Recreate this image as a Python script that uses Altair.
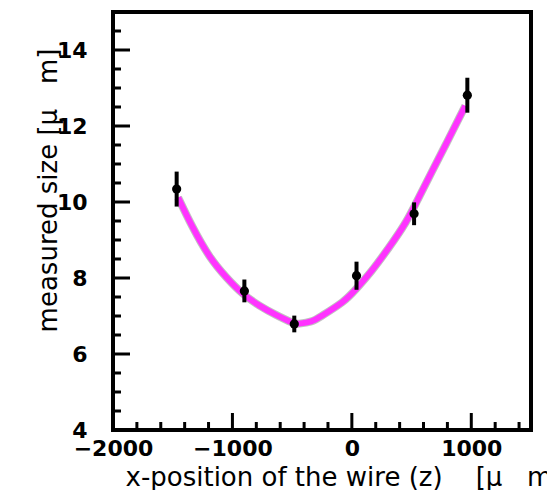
import altair as alt
import pandas as pd

# measured points
pt_x = [-1467, -900, -482, 39, 521, 967]
pt_y = [10.34, 7.66, 6.79, 8.06, 9.69, 12.81]
pt_err = [0.46, 0.30, 0.22, 0.37, 0.30, 0.46]

# fitted curve
fit_x = [-1455, -1335, -1193, -1051, -917, -777, -635, -501, -440, -340,
         -249, -82, 35, 168, 310, 452, 561, 669, 786, 895, 950]
fit_y = [10.12, 9.35, 8.58, 8.02, 7.60, 7.28, 7.03, 6.83, 6.80, 6.86,
         7.01, 7.36, 7.71, 8.20, 8.80, 9.47, 10.12, 10.79, 11.51, 12.19, 12.53]

# axis ticks
x_major = [-2000, -1000, 0, 1000]
x_minor = [-1800, -1600, -1400, -1200, -800, -600, -400, -200,
           200, 400, 600, 800, 1200, 1400]
y_major = [4, 6, 8, 10, 12, 14]
y_minor = [4.5, 5, 5.5, 6.5, 7, 7.5, 8.5, 9, 9.5, 10.5, 11, 11.5,
           12.5, 13, 13.5, 14.5]

W, H = 418, 418
FONT = "DejaVu Sans"

pts = pd.DataFrame({"x": pt_x, "y": pt_y, "err": pt_err})
pts["lo"] = pts["y"] - pts["err"]
pts["hi"] = pts["y"] + pts["err"]
fit = pd.DataFrame({"x": fit_x, "y": fit_y})

xs = alt.Scale(domain=[-2000, 1500], nice=False, zero=False)
ys = alt.Scale(domain=[4, 15], nice=False, zero=False)

xaxis = alt.Axis(
    values=x_major, format="d", ticks=False, tickSize=0, domain=False, grid=False,
    labelFont=FONT, labelFontSize=22, labelFontWeight="bold", labelColor="black",
    labelPadding=8, labelAlign="center", labelBaseline="top",
    labelFlush=False, labelOverlap=False,
    title="x-position of the wire (z)\u00a0\u00a0\u00a0\u00a0[\u03bc\u00a0\u00a0\u00a0m]",
    titleFont=FONT, titleFontSize=26, titleFontWeight="normal", titleColor="black",
    titleAlign="left", titleAnchor="start", titleX=12, titleY=55,
    titleBaseline="alphabetic",
)
yaxis = alt.Axis(
    values=y_major, format="d", ticks=False, tickSize=0, domain=False, grid=False,
    labelFont=FONT, labelFontSize=22, labelFontWeight="bold", labelColor="black",
    labelPadding=26, labelAlign="right", labelBaseline="middle",
    labelFlush=False, labelOverlap=False,
    title="measured size [\u03bc\u00a0\u00a0\u00a0m]",
    titleFont=FONT, titleFontSize=26, titleFontWeight="normal", titleColor="black",
    titleAngle=270, titleAlign="center", titleX=-57, titleY=178,
    titleBaseline="alphabetic",
)

halo = alt.Chart(fit).mark_line(color="#9a9a9a", strokeWidth=8, interpolate="natural",
                                opacity=0.6).encode(
    x=alt.X("x:Q", scale=xs, axis=xaxis),
    y=alt.Y("y:Q", scale=ys, axis=yaxis),
)
curve = alt.Chart(fit).mark_line(color="#ff33ff", strokeWidth=6, interpolate="natural").encode(
    x=alt.X("x:Q", scale=xs), y=alt.Y("y:Q", scale=ys)
)
ebar = alt.Chart(pts).mark_rule(color="black", strokeWidth=4).encode(
    x=alt.X("x:Q", scale=xs), y=alt.Y("lo:Q", scale=ys), y2="hi:Q"
)
dots = alt.Chart(pts).mark_point(shape="circle", filled=True, size=85, color="black",
                                 opacity=1).encode(
    x=alt.X("x:Q", scale=xs), y=alt.Y("y:Q", scale=ys)
)

def xt(vals, length, width):
    return alt.Chart(pd.DataFrame({"v": vals})).mark_rule(color="black", strokeWidth=width).encode(
        x=alt.X("v:Q", scale=xs), y=alt.value(H), y2=alt.value(H - length)
    )

def yt(vals, length, width):
    return alt.Chart(pd.DataFrame({"v": vals})).mark_rule(color="black", strokeWidth=width).encode(
        y=alt.Y("v:Q", scale=ys), x=alt.value(0), x2=alt.value(length)
    )

chart = alt.layer(
    halo, curve,
    xt(x_major, 17, 3), xt(x_minor, 8, 3),
    yt(y_major, 17, 3), yt(y_minor, 8, 3),
    ebar, dots,
).properties(
    width=W, height=H,
    autosize=alt.AutoSizeParams(type="none"),
    padding={"left": 105, "top": 4, "right": 16, "bottom": 60},
    background="white",
).configure_view(stroke="black", strokeWidth=4)

chart.save("out.html", embed_options={"renderer": "svg", "actions": False})
